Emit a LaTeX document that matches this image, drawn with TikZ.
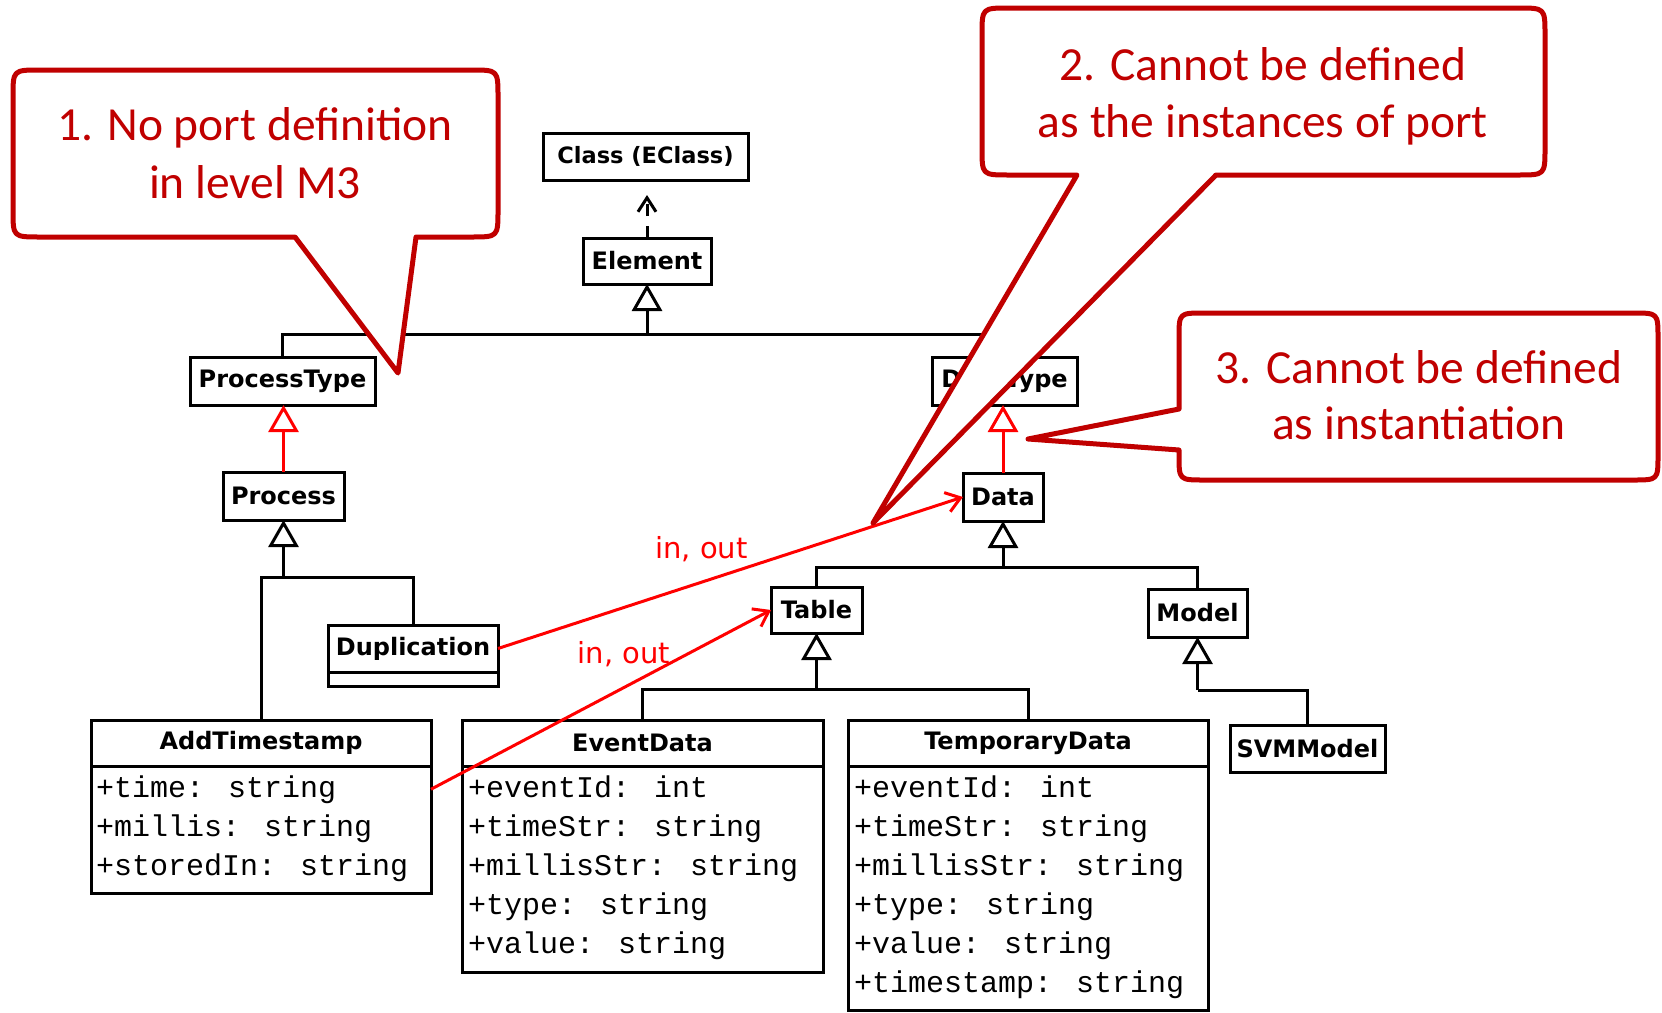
\documentclass[tikz,border=0pt]{standalone}
\usepackage{fontspec}
\usetikzlibrary{arrows.meta}
\newfontfamily\calloutfont{Carlito}
\newfontfamily\umlfont{DejaVu Sans}
\newfontfamily\attrfont{Liberation Mono}
\definecolor{noteRed}{HTML}{C00000}
\definecolor{portRed}{HTML}{FF0000}

\begin{document}
\begin{tikzpicture}[x=1pt,y=-1pt,
  umlbox/.style={draw=black, line width=3pt, fill=white, inner sep=0pt, outer sep=0pt,
    text=black, font=\umlfont\bfseries\fontsize{24}{28}\selectfont},
  attr/.style={anchor=base west, inner sep=0pt, text=black,
    font=\attrfont\fontsize{30}{39}\selectfont},
  link/.style={draw=black, line width=3pt},
  gen/.style={link, -{Triangle[length=27pt, width=30pt, fill=white]}},
  genred/.style={gen, draw=portRed},
  dep/.style={link, dash pattern=on 12pt off 10pt, -{Straight Barb[length=14pt, width=18pt]}},
  port/.style={draw=portRed, line width=3pt, -{Straight Barb[length=14pt, width=20pt]}},
  portlabel/.style={anchor=base, inner sep=0pt, text=portRed,
    font=\umlfont\fontsize{29}{34}\selectfont},
  note/.style={draw=noteRed, line width=5pt, fill=white, line join=round},
  notetext/.style={anchor=base, inner sep=0pt, text=noteRed,
    font=\calloutfont\fontsize{47.5}{58}\selectfont},
]
\useasboundingbox (0,0) rectangle (1662,1012);
\fill[white] (0,0) rectangle (1662,1012);

% ---- metamodel classes ----
\node[umlbox, minimum width=205pt, minimum height=47pt,
      font=\umlfont\bfseries\fontsize{22.5}{27}\selectfont] (class) at (645.5,156.5) {Class (EClass)};
\node[umlbox, minimum width=128pt, minimum height=46pt] (element) at (647,261) {Element};
\node[umlbox, minimum width=185pt, minimum height=48pt] (ptype) at (282.5,381) {ProcessType};
\node[umlbox, minimum width=145pt, minimum height=48pt] (dtype) at (1004.5,381) {DataType};
\node[umlbox, minimum width=121pt, minimum height=48pt] (process) at (283.5,496) {Process};
\node[umlbox, minimum width=80pt, minimum height=48pt] (data) at (1003,497) {Data};
\node[umlbox, minimum width=91pt, minimum height=46pt] (table) at (816.5,610) {Table};
\node[umlbox, minimum width=99pt, minimum height=48pt] (model) at (1197.5,613) {Model};
\node[umlbox, minimum width=155pt, minimum height=47pt] (svm) at (1307.5,748.5) {SVMModel};

% Duplication with an empty attribute compartment
\node[umlbox, minimum width=170pt, minimum height=47pt] (dup) at (413,648.5) {Duplication};
\node[umlbox, minimum width=170pt, minimum height=14pt, anchor=north] (dupbody) at (dup.south) {};

% AddTimestamp
\node[umlbox, minimum width=340pt, minimum height=46pt] (addts) at (261,743) {AddTimestamp};
\node[umlbox, minimum width=340pt, minimum height=127pt, anchor=north] (addtsbody) at (addts.south) {};
\foreach \t [count=\i] in {{+time: string},{+millis: string},{+storedIn: string}}
  \node[attr] (ats\i) at (96,{758+39*\i}) {\t};

% EventData
\node[umlbox, minimum width=361pt, minimum height=46pt] (evdata) at (642.5,743) {EventData};
\node[umlbox, minimum width=361pt, minimum height=206pt, anchor=north] (evbody) at (evdata.south) {};
\foreach \t [count=\i] in {{+eventId: int},{+timeStr: string},{+millisStr: string},{+type: string},{+value: string}}
  \node[attr] (ev\i) at (468,{758+39*\i}) {\t};

% TemporaryData
\node[umlbox, minimum width=360pt, minimum height=46pt] (tmpdata) at (1028,743) {TemporaryData};
\node[umlbox, minimum width=360pt, minimum height=244pt, anchor=north] (tmpbody) at (tmpdata.south) {};
\foreach \t [count=\i] in {{+eventId: int},{+timeStr: string},{+millisStr: string},{+type: string},{+value: string},{+timestamp: string}}
  \node[attr] (tmp\i) at (854,{758+39*\i}) {\t};

% ---- generalisation trees ----
\coordinate (busE) at (647,334);
\coordinate (busP) at (283.5,577);
\coordinate (busD) at (1003,567);
\coordinate (busT) at (816.5,689);
\coordinate (busM) at (1197.5,690);

\draw[link] (ptype.north) |- (busE) -| (dtype.north);
\draw[gen] (busE) -- (element.south);
\draw[dep, shorten >=15pt] (element.north) -- (element.north |- class.south);

\draw[genred] (process.north) -- (process.north |- ptype.south);
\draw[genred] (data.north) -- (data.north |- dtype.south);

\draw[link] (addts.north) |- (busP) -| (dup.north);
\draw[gen] (busP) -- (process.south);

\draw[link] (table.north) |- (busD) -| (model.north);
\draw[gen] (busD) -- (data.south);

\draw[link] (evdata.north) |- (busT) -| (tmpdata.north);
\draw[gen] (busT) -- (table.south);

\draw[link] (svm.north) |- (busM);
\draw[gen] (busM) -- (model.south);

% ---- port associations ----
\draw[port] (dup.east) -- (data.west);
\draw[port] (addtsbody.east |- ats1) -- (table.west);
\node[portlabel] (lblA) at (701.5,558) {in, out};
\node[portlabel] (lblB) at (624,663) {in, out};

% ---- remarks ----
\path[note] (295,237) -- (398,373) -- (416,237) -- (471,237) .. controls (498,237) .. (498,210)
  -- (498,97) .. controls (498,70) .. (471,70) -- (40,70) .. controls (13,70) .. (13,97)
  -- (13,210) .. controls (13,237) .. (40,237) -- cycle;
\node[notetext] (n1a) at (255,140) {1. No port definition};
\node[notetext] (n1b) at (255,198) {in level M3};

\path[note] (1077,175) -- (873,523) -- (1216,175) -- (1518,175) .. controls (1545,175) .. (1545,148)
  -- (1545,35) .. controls (1545,8) .. (1518,8) -- (1009,8) .. controls (982,8) .. (982,35)
  -- (982,148) .. controls (982,175) .. (1009,175) -- cycle;
\node[notetext] (n2a) at (1263,80) {2. Cannot be defined};
\node[notetext] (n2b) at (1263,137) {as the instances of port};

\path[note] (1179,409) -- (1028,439) -- (1179,450) -- (1179,455) .. controls (1179,480) .. (1204,480)
  -- (1633,480) .. controls (1658,480) .. (1658,455) -- (1658,338) .. controls (1658,313) .. (1633,313)
  -- (1204,313) .. controls (1179,313) .. (1179,338) -- cycle;
\node[notetext] (n3a) at (1419,383) {3. Cannot be defined};
\node[notetext] (n3b) at (1419,439) {as instantiation};
\end{tikzpicture}
\end{document}
